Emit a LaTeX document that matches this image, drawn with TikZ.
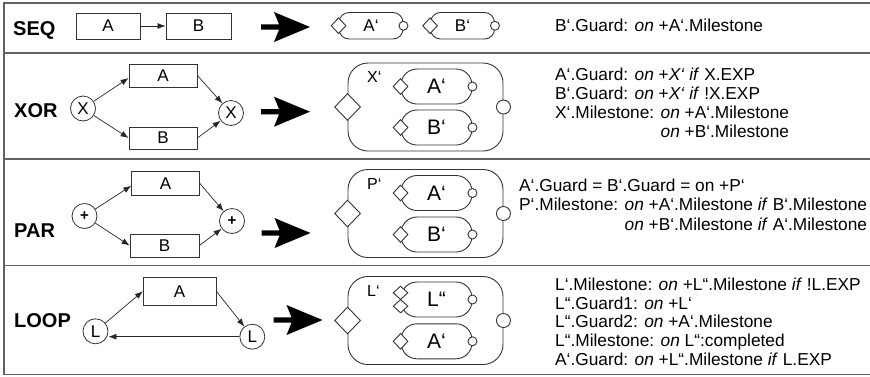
\documentclass[tikz,border=0pt]{standalone}
\usepackage{fontspec}
\setmainfont{Liberation Sans}
\usetikzlibrary{shapes.geometric,arrows.meta}
\tikzset{
  frameline/.style={draw=black!62, line width=1.3pt},
  box/.style={draw=black!80, line width=0.8pt, inner sep=0pt, font=\fontsize{17}{17}\selectfont},
  gate/.style={circle, draw=black!80, line width=0.8pt, minimum size=25pt, inner sep=0pt, font=\fontsize{17}{17}\selectfont},
  flow/.style={draw=black!85, line width=0.7pt, -{Latex[length=8pt,width=6pt]}},
  outerbox/.style={draw=black!80, line width=0.9pt, rounded corners=20pt, inner sep=0pt, minimum width=155pt, minimum height=88pt},
  innerbox/.style={draw=black!80, line width=0.9pt, rounded corners=16pt, inner sep=0pt, minimum width=71pt, minimum height=35pt, font=\fontsize{21}{21}\selectfont},
  seqbox/.style={draw=black!80, line width=0.9pt, rounded corners=10pt, inner sep=0pt, minimum width=64pt, minimum height=26.5pt, font=\fontsize{17}{17}\selectfont},
  bigguard/.style={diamond, draw=black!80, fill=white, line width=0.9pt, minimum width=26pt, minimum height=27pt, inner sep=0pt},
  bigms/.style={circle, draw=black!80, fill=white, line width=0.9pt, minimum size=14pt, inner sep=0pt},
  smguard/.style={diamond, draw=black!80, fill=white, line width=0.9pt, minimum width=15pt, minimum height=16pt, inner sep=0pt},
  smms/.style={circle, draw=black!80, fill=white, line width=0.9pt, minimum size=9pt, inner sep=0pt},
  plabel/.style={font=\fontsize{20}{20}\selectfont\bfseries, anchor=base west, inner sep=0pt},
  complabel/.style={font=\fontsize{16}{16}\selectfont, anchor=base west, inner sep=0pt},
  ruletext/.style={font=\fontsize{17.3}{19}\selectfont, anchor=base west, inner sep=0pt}
}
\newcommand{\fatarrow}[2]{%
  \fill[black] (#1,{#2-2.7}) -- ({#1+18},{#2-2.7}) -- ({#1+13},{#2-15}) -- ({#1+49},#2)
    -- ({#1+13},{#2+15}) -- ({#1+18},{#2+2.7}) -- (#1,{#2+2.7}) -- cycle;}
\begin{document}
\begin{tikzpicture}[x=1pt,y=-1pt]
\useasboundingbox (0,0) rectangle (870,376);
% frame
\draw[frameline] (870,3) -- (4,3) -- (4,374.5) -- (870,374.5);
\draw[frameline] (4,53) -- (870,53);
\draw[frameline] (4,159) -- (870,159);
\draw[frameline] (4,265.5) -- (870,265.5);

% ---------- SEQ ----------
\node[plabel] (lseq) at (13,35) {SEQ};
\node[box, minimum width=64pt, minimum height=26pt] (sa) at (108,26) {A};
\node[box, minimum width=65pt, minimum height=26pt] (sb) at (198.5,26) {B};
\draw[flow] (sa) -- (sb);
\fatarrow{261}{27}
\node[seqbox] (sap) at (371,25.75) {A‘};
\node[smguard] (sapg) at (sap.west) {};
\node[smms] (sapm) at (sap.east) {};
\node[seqbox] (sbp) at (462.5,25.75) {B‘};
\node[smguard] (sbpg) at (sbp.west) {};
\node[smms] (sbpm) at (sbp.east) {};
\node[ruletext] (tseq) at (555,31.5) {B‘.Guard: \textit{on} +A‘.Milestone};

% ---------- XOR ----------
\node[plabel] (lxor) at (14,117) {XOR};
\node[gate] (xl) at (83,108.5) {X};
\node[gate] (xr) at (231,113) {X};
\node[box, minimum width=68pt, minimum height=23pt] (xa) at (163,75.5) {A};
\node[box, minimum width=68pt, minimum height=22pt] (xb) at (163,138) {B};
\draw[flow] (xl) -- ([yshift=-2.5pt]xa.west);
\draw[flow] (xa.east) -- (xr);
\draw[flow] (xl) -- (xb.west);
\draw[flow] (xb.east) -- (xr);
\fatarrow{261}{111.7}
\node[outerbox] (xo) at (425.5,107) {};
\node[bigguard] (xog) at (xo.west) {};
\node[bigms] (xom) at (xo.east) {};
\node[complabel] (xol) at (367,82.5) {X‘};
\node[innerbox] (xap) at (436.5,86.5) {A‘};
\node[smguard] (xapg) at (xap.west) {};
\node[smms] (xapm) at (xap.east) {};
\node[innerbox] (xbp) at (436.5,127.5) {B‘};
\node[smguard] (xbpg) at (xbp.west) {};
\node[smms] (xbpm) at (xbp.east) {};
\node[ruletext] (tx1) at (555,80) {A‘.Guard: \textit{on} +\textit{X‘} \textit{if} X.EXP};
\node[ruletext] (tx2) at (555,99) {B‘.Guard: \textit{on} +\textit{X‘} \textit{if} !X.EXP};
\node[ruletext] (tx3) at (555,118) {X‘.Milestone: \textit{on} +A‘.Milestone};
\node[ruletext] (tx4) at (555,137) {\hphantom{X‘.Milestone: }\textit{on} +B‘.Milestone};

% ---------- PAR ----------
\node[plabel] (lpar) at (14,237) {PAR};
\node[gate, font=\fontsize{15}{15}\selectfont\bfseries] (pl) at (84.5,216) {+};
\node[gate, font=\fontsize{15}{15}\selectfont\bfseries] (pr) at (232,221) {+};
\node[box, minimum width=67.6pt, minimum height=23.3pt] (pa) at (165.5,183.3) {A};
\node[box, minimum width=69pt, minimum height=23pt] (pb) at (164.5,245.5) {B};
\draw[flow] (pl) -- ([yshift=-2.5pt]pa.west);
\draw[flow] (pa.east) -- (pr);
\draw[flow] (pl) -- (pb.west);
\draw[flow] (pb.east) -- (pr);
\fatarrow{261.5}{233}
\node[outerbox] (po) at (425.5,213.5) {};
\node[bigguard] (pog) at (po.west) {};
\node[bigms] (pom) at (po.east) {};
\node[complabel] (pol) at (367,189.5) {P‘};
\node[innerbox] (pap) at (436.5,193) {A‘};
\node[smguard] (papg) at (pap.west) {};
\node[smms] (papm) at (pap.east) {};
\node[innerbox] (pbp) at (436.5,234.5) {B‘};
\node[smguard] (pbpg) at (pbp.west) {};
\node[smms] (pbpm) at (pbp.east) {};
\node[ruletext] (tp1) at (519,191.5) {A‘.Guard = B‘.Guard = on +P‘};
\node[ruletext] (tp2) at (519,210.5) {P‘.Milestone: \textit{on} +A‘.Milestone \textit{if} B‘.Milestone};
\node[ruletext] (tp3) at (519,230) {\hphantom{P‘.Milestone: }\textit{on} +B‘.Milestone \textit{if} A‘.Milestone};

% ---------- LOOP ----------
\node[plabel] (lloop) at (14,327) {LOOP};
\node[gate] (ll) at (95.5,331.3) {L};
\node[gate] (lr) at (252.3,336.7) {L};
\node[box, minimum width=72.7pt, minimum height=27.7pt] (la) at (179.6,291.2) {A};
\draw[flow] (ll) -- (la.west);
\draw[flow] (la.east) -- (lr);
\draw[flow] (lr.west) -- (lr.west -| ll.east);
\fatarrow{273.5}{320}
\node[outerbox] (lo) at (425.5,320.5) {};
\node[bigguard] (log) at (lo.west) {};
\node[bigms] (lom) at (lo.east) {};
\node[complabel] (lol) at (367,296) {L‘};
\node[innerbox] (llp) at (436.5,299.5) {L“};
\node[smguard, minimum height=13.5pt] (llpg1) at ([yshift=6.7pt]llp.west) {};
\node[smguard, minimum height=13.5pt] (llpg2) at ([yshift=-6.7pt]llp.west) {};
\node[smms] (llpm) at (llp.east) {};
\node[innerbox] (lap) at (436.5,341.3) {A‘};
\node[smguard] (lapg) at (lap.west) {};
\node[smms] (lapm) at (lap.east) {};
\node[ruletext] (tl1) at (555,290) {L‘.Milestone: \textit{on} +L“.Milestone \textit{if} !L.EXP};
\node[ruletext] (tl2) at (555,309) {L“.Guard1: \textit{on} +L‘};
\node[ruletext] (tl3) at (555,327.5) {L“.Guard2: \textit{on} +A‘.Milestone};
\node[ruletext] (tl4) at (555,346.5) {L“.Milestone: \textit{on} L“:completed};
\node[ruletext] (tl5) at (555,365) {A‘.Guard: \textit{on} +L“.Milestone \textit{if} L.EXP};
\end{tikzpicture}
\end{document}
